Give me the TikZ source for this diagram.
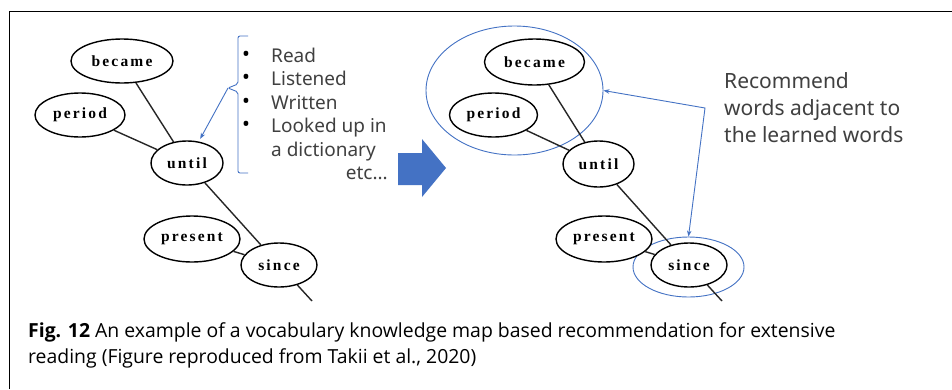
\documentclass[tikz,border=0pt]{standalone}
\usepackage{fontspec}
\setmainfont{Liberation Serif}
\newfontfamily\capfont{Open Sans}
\newfontfamily\listfont{Noto Sans}
\newfontfamily\wordfont[LetterSpace=14]{Liberation Serif}
\usetikzlibrary{shapes.geometric,arrows.meta}
\definecolor{msblue}{HTML}{4472C4}
\definecolor{txtgray}{HTML}{404040}
\begin{document}
\begin{tikzpicture}[x=1pt,y=-1pt,
  word/.style={draw=black, line width=1.4pt, ellipse, inner sep=0pt, fill=white,
    font=\wordfont\fontsize{15.5}{15.5}\selectfont\bfseries},
  edge/.style={draw=black!85, line width=1.4pt},
  blueline/.style={draw=msblue, line width=0.9pt},
  bluetip/.style={blueline, -{Stealth[length=6pt,width=4.5pt]}},
  listtxt/.style={anchor=base west, inner sep=0pt, text=txtgray,
    font=\listfont\fontsize{19}{19}\selectfont},
  righttxt/.style={listtxt, font=\listfont\fontsize{21}{21}\selectfont},
  bullet/.style={text=black, inner sep=0pt, font=\listfont\fontsize{21}{21}\selectfont},
  captxt/.style={anchor=base west, inner sep=0pt, text=black,
    font=\capfont\fontsize{19.4}{19.4}\selectfont}]
\useasboundingbox (0,0) rectangle (952,389);
\fill[white] (0,0) rectangle (952,389);
% frame
\draw[line width=1.8pt] (9.5,389) -- (9.5,11.5) -- (952,11.5);

% ---------- left graph ----------
\node[word, minimum width=102pt, minimum height=44pt] (b1) at (122,61) {became};
\node[word, minimum width=90pt, minimum height=44pt] (p1) at (80,115) {period};
\node[word, minimum width=72pt, minimum height=44pt] (u1) at (187,163) {until};
\node[word, minimum width=96pt, minimum height=46pt] (r1) at (192,239) {present};
\node[word, minimum width=76pt, minimum height=44pt] (s1) at (279,265) {since};
\coordinate (t1) at (312,301);
\draw[edge] (b1) -- (u1);
\draw[edge] (p1) -- (u1);
\draw[edge] (u1) -- (s1);
\draw[edge] (r1) -- (s1);
\draw[edge] (s1) -- (t1);

% bracket and list
\coordinate (bt) at (228,88);
\draw[blueline, rounded corners=2pt] (248,36) -- (238,36) -- (238,84) -- (bt) -- (238,92) -- (238,173) -- (248,173);
\draw[bluetip, shorten >=3pt] (bt) -- (u1);
\foreach \y/\t [count=\i] in {62/Read,85.5/Listened,109/Written,132.5/Looked up in}{
  \node[listtxt] (li\i) at (271,\y) {\t};
  \node[bullet] (bu\i) at (246,\y-6) {•};
}
\node[listtxt] (li5) at (271,156) {a dictionary};
\node[listtxt, anchor=base east] (li6) at (388,179.5) {etc...};

% big arrow
\fill[msblue] (398,153) -- (422,153) -- (422,139) -- (446,168) -- (422,197) -- (422,185) -- (398,185) -- cycle;

% ---------- right graph ----------
\node[draw=msblue, line width=0.9pt, ellipse, minimum width=177pt, minimum height=129pt, inner sep=0pt] (g1) at (514.5,90.5) {};
\node[draw=msblue, line width=0.9pt, ellipse, minimum width=111pt, minimum height=60pt, inner sep=0pt] (g2) at (688.5,267) {};
\node[word, minimum width=100pt, minimum height=46pt] (b2) at (534.5,62) {became};
\node[word, minimum width=88pt, minimum height=44pt] (p2) at (493.5,115) {period};
\node[word, minimum width=71pt, minimum height=46pt] (u2) at (598.5,164) {until};
\node[word, minimum width=96pt, minimum height=46pt] (r2) at (604,239) {present};
\node[word, minimum width=76pt, minimum height=44pt] (s2) at (689,265) {since};
\coordinate (t2) at (722,301);
\draw[edge] (b2) -- (u2);
\draw[edge] (p2) -- (u2);
\draw[edge] (u2) -- (s2);
\draw[edge] (r2) -- (s2);
\draw[edge] (s2) -- (t2);

\coordinate (c1) at (705,108);
\draw[blueline, {Stealth[length=6pt,width=4.5pt]}-{Stealth[length=6pt,width=4.5pt]}] (g1.east) -- (c1) -- (g2.north);

\node[righttxt] (rt1) at (724,88) {Recommend};
\node[righttxt] (rt2) at (724,115) {words adjacent to};
\node[righttxt] (rt3) at (724,142) {the learned words};

% caption
\node[captxt] (cap1) at (28,337) {\textbf{Fig. 12} An example of a vocabulary knowledge map based recommendation for extensive};
\node[captxt] (cap2) at (28,363) {reading (Figure reproduced from Takii et al., 2020)};
\end{tikzpicture}
\end{document}
